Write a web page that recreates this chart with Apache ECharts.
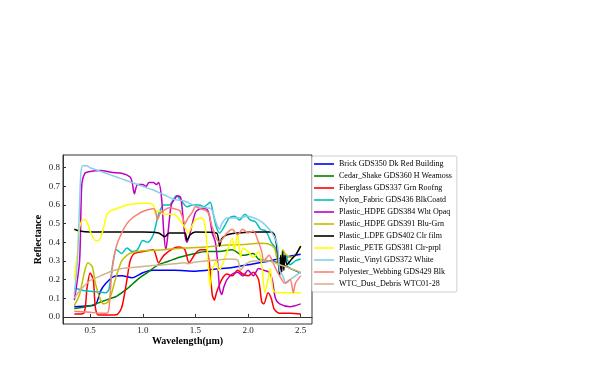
<!DOCTYPE html>
<html>
<head>
<meta charset="utf-8">
<script src="https://cdn.jsdelivr.net/npm/echarts@6/dist/echarts.min.js"></script>
<style>html,body{margin:0;padding:0;background:#fff}#c{width:598px;height:369px}</style>
</head>
<body>
<div id="c"></div>
<script>
var seriesNames = [
  "Brick GDS350 Dk Red Building",
  "Cedar_Shake GDS360 H Weamoss",
  "Fiberglass GDS337 Grn Roofng",
  "Nylon_Fabric GDS436 BlkCoatd",
  "Plastic_HDPE GDS384 Wht Opaq",
  "Plastic_HDPE GDS391 Blu-Grn",
  "Plastic_LDPE GDS402 Clr film",
  "Plastic_PETE GDS381 Clr-prpl",
  "Plastic_Vinyl GDS372 White",
  "Polyester_Webbing GDS429 Blk",
  "WTC_Dust_Debris WTC01-28"
];
var seriesColors = ["#0000ff","#008000","#ff0000","#00bfbf","#bf00bf","#bfbf00","#000000","#ffff00","#87ceeb","#fa8072","#d2b48c"];
var xTicks = [0.5,1.0,1.5,2.0,2.5];
var yTicks = [0,0.1,0.2,0.3,0.4,0.5,0.6,0.7,0.8];

var brick = [[0.35,0.054],[0.45,0.058],[0.55,0.065],[0.6,0.14],[0.65,0.18],[0.72,0.215],[0.8,0.22],[0.9,0.21],[1.0,0.237],[1.1,0.25],[1.3,0.25],[1.5,0.245],[1.7,0.257],[1.85,0.265],[2.0,0.28],[2.2,0.30],[2.35,0.32],[2.5,0.336]];
var cedar = [[0.35,0.045],[0.5,0.06],[0.6,0.08],[0.7,0.10],[0.75,0.11],[0.85,0.15],[0.95,0.20],[1.05,0.24],[1.15,0.28],[1.25,0.30],[1.35,0.32],[1.5,0.34],[1.6,0.35],[1.7,0.35],[1.85,0.36],[1.95,0.33],[2.05,0.34],[2.1,0.31],[2.2,0.30],[2.3,0.29],[2.4,0.26],[2.5,0.235]];
var fiberglass = [[0.35,0.015],[0.44,0.02],[0.47,0.15],[0.5,0.235],[0.53,0.2],[0.55,0.05],[0.58,0.01],[0.75,0.012],[0.8,0.05],[0.85,0.2],[0.88,0.3],[0.92,0.34],[1.0,0.35],[1.1,0.36],[1.15,0.29],[1.2,0.33],[1.3,0.37],[1.35,0.375],[1.4,0.36],[1.44,0.29],[1.5,0.34],[1.55,0.36],[1.6,0.36],[1.63,0.3],[1.66,0.12],[1.68,0.09],[1.7,0.13],[1.75,0.2],[1.8,0.23],[1.85,0.22],[1.9,0.25],[1.95,0.23],[2.0,0.22],[2.05,0.24],[2.1,0.2],[2.13,0.08],[2.15,0.07],[2.19,0.13],[2.22,0.1],[2.25,0.04],[2.3,0.02],[2.4,0.02],[2.5,0.015]];
var nylon = [[0.35,0.155],[0.45,0.14],[0.55,0.135],[0.65,0.13],[0.68,0.15],[0.72,0.3],[0.75,0.36],[0.8,0.34],[0.85,0.37],[0.9,0.35],[0.95,0.36],[1.0,0.41],[1.05,0.40],[1.1,0.44],[1.15,0.55],[1.2,0.6],[1.25,0.6],[1.32,0.65],[1.37,0.62],[1.42,0.59],[1.47,0.6],[1.54,0.6],[1.58,0.59],[1.64,0.615],[1.67,0.55],[1.7,0.48],[1.73,0.45],[1.78,0.49],[1.82,0.53],[1.87,0.54],[1.92,0.52],[1.97,0.55],[2.02,0.52],[2.07,0.51],[2.12,0.47],[2.17,0.46],[2.22,0.4],[2.26,0.37],[2.3,0.3],[2.35,0.33],[2.4,0.28],[2.45,0.3],[2.5,0.31]];
var hdpe384 = [[0.35,0.09],[0.4,0.3],[0.42,0.7],[0.45,0.77],[0.5,0.78],[0.6,0.785],[0.7,0.775],[0.8,0.77],[0.88,0.75],[0.9,0.72],[0.92,0.66],[0.95,0.71],[1.0,0.71],[1.03,0.70],[1.06,0.72],[1.1,0.72],[1.13,0.71],[1.15,0.72],[1.18,0.63],[1.2,0.45],[1.22,0.36],[1.24,0.45],[1.27,0.6],[1.3,0.63],[1.33,0.65],[1.36,0.64],[1.38,0.55],[1.4,0.44],[1.42,0.4],[1.45,0.45],[1.5,0.56],[1.55,0.58],[1.6,0.58],[1.63,0.55],[1.66,0.45],[1.69,0.4],[1.71,0.3],[1.73,0.15],[1.75,0.12],[1.77,0.16],[1.8,0.2],[1.85,0.23],[1.9,0.24],[1.95,0.22],[2.0,0.25],[2.05,0.22],[2.1,0.26],[2.15,0.25],[2.2,0.24],[2.23,0.2],[2.26,0.1],[2.3,0.07],[2.4,0.055],[2.5,0.07]];
var hdpe391 = [[0.35,0.06],[0.4,0.12],[0.45,0.25],[0.48,0.29],[0.52,0.27],[0.55,0.18],[0.6,0.09],[0.63,0.07],[0.67,0.08],[0.7,0.12],[0.75,0.22],[0.8,0.3],[0.85,0.33],[0.9,0.345],[1.0,0.355],[1.2,0.36],[1.4,0.37],[1.6,0.375],[1.7,0.38],[1.8,0.385],[2.0,0.39],[2.1,0.395],[2.2,0.39],[2.25,0.37],[2.28,0.3],[2.3,0.28],[2.32,0.33],[2.33,0.36],[2.35,0.34],[2.4,0.32],[2.45,0.33],[2.5,0.38]];
var ldpe = [[0.35,0.47],[0.4,0.46],[0.5,0.455],[0.8,0.455],[1.0,0.455],[1.15,0.45],[1.21,0.43],[1.25,0.45],[1.4,0.45],[1.42,0.41],[1.45,0.44],[1.5,0.455],[1.7,0.45],[1.73,0.38],[1.75,0.42],[1.8,0.44],[1.9,0.45],[2.1,0.455],[2.22,0.455],[2.25,0.44],[2.28,0.35],[2.3,0.22],[2.31,0.33],[2.32,0.24],[2.33,0.35],[2.34,0.25],[2.35,0.33],[2.37,0.28],[2.4,0.3],[2.43,0.32],[2.45,0.33],[2.5,0.38]];
var pete = [[0.35,0.2],[0.38,0.35],[0.4,0.48],[0.43,0.52],[0.46,0.52],[0.5,0.46],[0.55,0.41],[0.58,0.41],[0.62,0.46],[0.66,0.55],[0.7,0.57],[0.75,0.58],[0.8,0.59],[0.85,0.6],[0.9,0.605],[1.0,0.61],[1.05,0.61],[1.1,0.6],[1.12,0.55],[1.15,0.57],[1.2,0.55],[1.3,0.55],[1.35,0.52],[1.4,0.48],[1.43,0.45],[1.47,0.49],[1.5,0.52],[1.55,0.53],[1.58,0.52],[1.6,0.45],[1.62,0.3],[1.64,0.16],[1.66,0.25],[1.7,0.3],[1.72,0.25],[1.75,0.27],[1.8,0.35],[1.85,0.42],[1.87,0.36],[1.9,0.44],[1.93,0.32],[1.95,0.37],[2.0,0.35],[2.05,0.32],[2.1,0.35],[2.13,0.28],[2.16,0.13],[2.19,0.2],[2.21,0.26],[2.24,0.14],[2.3,0.13],[2.5,0.13]];
var vinyl = [[0.35,0.12],[0.38,0.3],[0.41,0.75],[0.43,0.81],[0.47,0.81],[0.5,0.8],[0.6,0.78],[0.7,0.76],[0.8,0.74],[0.9,0.72],[1.0,0.70],[1.1,0.68],[1.2,0.655],[1.3,0.63],[1.4,0.62],[1.5,0.595],[1.6,0.585],[1.65,0.58],[1.7,0.5],[1.73,0.47],[1.75,0.5],[1.8,0.53],[1.9,0.53],[2.0,0.54],[2.1,0.52],[2.15,0.5],[2.2,0.47],[2.25,0.43],[2.28,0.38],[2.3,0.25],[2.33,0.22],[2.36,0.18],[2.4,0.2],[2.45,0.22],[2.5,0.24]];
var polyester = [[0.35,0.03],[0.5,0.025],[0.6,0.02],[0.66,0.02],[0.68,0.05],[0.7,0.2],[0.72,0.3],[0.75,0.38],[0.8,0.45],[0.85,0.5],[0.9,0.53],[0.95,0.55],[1.0,0.565],[1.05,0.575],[1.1,0.58],[1.12,0.57],[1.14,0.52],[1.17,0.56],[1.2,0.57],[1.25,0.585],[1.3,0.58],[1.35,0.57],[1.38,0.53],[1.4,0.5],[1.43,0.53],[1.47,0.56],[1.5,0.59],[1.55,0.58],[1.6,0.57],[1.63,0.55],[1.65,0.5],[1.68,0.45],[1.7,0.42],[1.73,0.4],[1.76,0.42],[1.8,0.45],[1.85,0.47],[1.9,0.44],[1.95,0.47],[2.0,0.45],[2.05,0.46],[2.1,0.4],[2.13,0.35],[2.15,0.3],[2.2,0.33],[2.23,0.3],[2.27,0.25],[2.3,0.22],[2.35,0.18],[2.4,0.2],[2.43,0.13],[2.45,0.18],[2.5,0.22]];
var wtc = [[0.35,0.1],[0.4,0.14],[0.45,0.17],[0.5,0.195],[0.6,0.22],[0.7,0.245],[0.8,0.26],[0.9,0.265],[1.0,0.27],[1.1,0.275],[1.2,0.28],[1.3,0.285],[1.4,0.29],[1.43,0.285],[1.5,0.295],[1.6,0.3],[1.7,0.305],[1.8,0.31],[1.9,0.305],[1.93,0.25],[1.97,0.28],[2.05,0.3],[2.2,0.3],[2.3,0.28],[2.4,0.26],[2.5,0.24]];

var allData = [brick,cedar,fiberglass,nylon,hdpe384,hdpe391,ldpe,pete,vinyl,polyester,wtc];

var FONT = "'Liberation Serif','DejaVu Serif',serif";
var chart = echarts.init(document.getElementById('c'), null, {renderer:'canvas'});
chart.setOption({
  animation: false,
  backgroundColor: '#fff',
  grid: {left: 63, right: 286, top: 155, bottom: 45, show: true, borderColor: '#333', borderWidth: 1, containLabel: false},
  legend: {
    data: seriesNames, orient: 'vertical', left: 312, top: 156,
    icon: 'rect', itemWidth: 20, itemHeight: 1.6, itemGap: 4,
    padding: [4, 5, 4, 2],
    backgroundColor: '#fff', borderColor: '#d0d0d0', borderWidth: 1, borderRadius: 2,
    textStyle: {fontFamily: FONT, fontSize: 8, color: '#000', lineHeight: 8}
  },
  xAxis: {
    type: 'value', min: 0.2425, max: 2.6075,
    name: 'Wavelength(μm)', nameLocation: 'middle', nameGap: 12,
    nameTextStyle: {fontFamily: FONT, fontSize: 10, fontWeight: 'bold', color: '#000'},
    axisLine: {show: true, lineStyle: {color: '#333'}},
    axisTick: {show: true, inside: true, length: 3, customValues: xTicks, lineStyle: {color: '#333'}},
    axisLabel: {customValues: xTicks, fontFamily: FONT, fontSize: 9, color: '#222', margin: 2, formatter: function(v){return v.toFixed(1);}},
    splitLine: {show: false}
  },
  yAxis: {
    type: 'value', min: -0.038, max: 0.868,
    name: 'Reflectance', nameLocation: 'middle', nameGap: 20, nameRotate: 90,
    nameTextStyle: {fontFamily: FONT, fontSize: 10, fontWeight: 'bold', color: '#000'},
    axisLine: {show: true, lineStyle: {color: '#333'}},
    axisTick: {show: true, inside: true, length: 3, customValues: yTicks, lineStyle: {color: '#333'}},
    axisLabel: {customValues: yTicks, fontFamily: FONT, fontSize: 9, color: '#222', margin: 3, formatter: function(v){return v.toFixed(1);}},
    splitLine: {show: false}
  },
  series: allData.map(function(d, i){
    return {
      name: seriesNames[i], type: 'line', data: d, showSymbol: false, smooth: 0.25,
      lineStyle: {color: seriesColors[i], width: 1.5}, itemStyle: {color: seriesColors[i]},
      clip: true
    };
  })
});
</script>
</body>
</html>
